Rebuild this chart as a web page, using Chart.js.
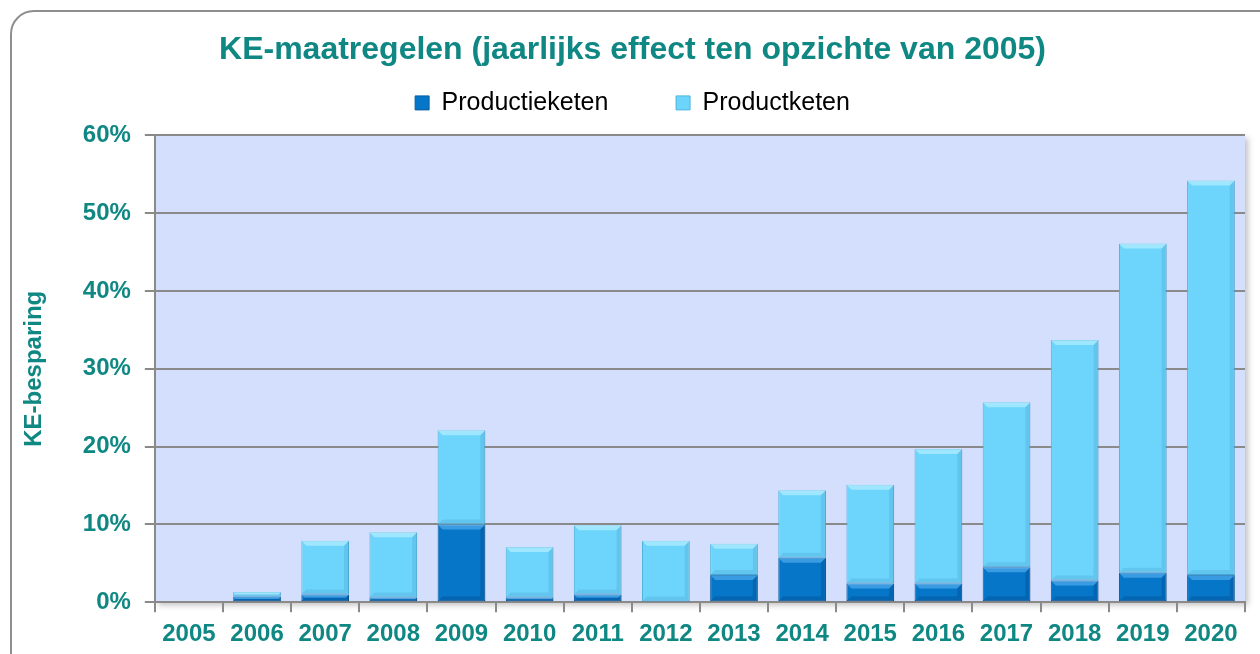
<!DOCTYPE html>
<html>
<head>
<meta charset="utf-8">
<script src="https://cdn.jsdelivr.net/npm/chart.js@4/dist/chart.umd.min.js"></script>
<style>
    body { margin: 0; background: #ffffff; overflow: hidden; }
    #frame {
        position: absolute; left: 10px; top: 10px; width: 1300px; height: 700px;
        border: 2px solid #8e8e8e; border-radius: 24px; box-sizing: border-box;
    }
    #wrap { position: absolute; left: 0; top: 0; width: 1260px; height: 654px; }
</style>
</head>
<body>
<div id="frame"></div>
<div id="wrap"><canvas id="keChart" width="1260" height="654"></canvas></div>
<script>
const years = ["2005", "2006", "2007", "2008", "2009", "2010", "2011", "2012",
               "2013", "2014", "2015", "2016", "2017", "2018", "2019", "2020"];
// share in % (stacked)
const productieketen = [0, 0.7, 1.0, 0.6, 10.0, 0.6, 1.0, 0.1, 3.5, 5.7, 2.4, 2.4, 4.5, 2.8, 3.8, 3.5];
const productketen = [0, 0.6, 6.9, 8.4, 12.1, 6.5, 8.9, 7.8, 4.0, 8.7, 12.7, 17.3, 21.2, 30.9, 42.3, 50.7];
const yTicks = [0, 10, 20, 30, 40, 50, 60];

const teal = "#0f8783";
const font = "Liberation Sans, Arial, sans-serif";

const plotBackground = {
    id: "plotBackground",
    beforeDraw(chart) {
        const a = chart.chartArea;
        const ctx = chart.ctx;
        ctx.save();
        ctx.shadowColor = "rgba(0,0,0,0.25)";
        ctx.shadowBlur = 6;
        ctx.shadowOffsetX = 3;
        ctx.shadowOffsetY = 3;
        ctx.fillStyle = "#d4defd";
        ctx.fillRect(a.left, a.top, a.right - a.left, a.bottom - a.top);
        ctx.restore();
    }
};

// empty box between legend and plot, to get some air under the legend
const legendGap = {
    id: "legendGap",
    beforeInit(chart) {
        Chart.layouts.addBox(chart, {
            position: "top",
            weight: 1,
            fullSize: true,
            options: {},
            isHorizontal: () => true,
            update(maxWidth) {
                this.width = maxWidth;
                this.height = 10;
            },
            draw() {}
        });
    }
};

// simple bevel on each bar segment
const bevel = {
    id: "bevel",
    afterDatasetsDraw(chart) {
        const ctx = chart.ctx;
        const shades = [
            { hi: "rgba(120,200,255,0.45)", lo: "rgba(0,30,80,0.18)" },
            { hi: "rgba(200,245,255,0.55)", lo: "rgba(0,60,110,0.10)" }
        ];
        chart.data.datasets.forEach((ds, i) => {
            const meta = chart.getDatasetMeta(i);
            meta.data.forEach(bar => {
                const p = bar.getProps(["x", "y", "base", "width"], true);
                const l = p.x - p.width / 2, r = p.x + p.width / 2;
                const t = Math.min(p.y, p.base), b = Math.max(p.y, p.base);
                const h = b - t;
                if (h < 1) return;
                const s = Math.min(5, h / 2);
                ctx.save();
                ctx.fillStyle = shades[i].hi;
                ctx.beginPath();
                ctx.moveTo(l, t); ctx.lineTo(r, t); ctx.lineTo(r - s, t + s); ctx.lineTo(l + s, t + s);
                ctx.closePath(); ctx.fill();
                ctx.fillStyle = shades[i].lo;
                ctx.beginPath();
                ctx.moveTo(r, t); ctx.lineTo(r, b); ctx.lineTo(r - s, b - s); ctx.lineTo(r - s, t + s);
                ctx.closePath(); ctx.fill();
                ctx.beginPath();
                ctx.moveTo(l, b); ctx.lineTo(r, b); ctx.lineTo(r - s, b - s); ctx.lineTo(l + s, b - s);
                ctx.closePath(); ctx.fill();
                ctx.restore();
            });
        });
    }
};

const ctx = document.getElementById("keChart").getContext("2d");
new Chart(ctx, {
    type: "bar",
    data: {
        labels: years,
        datasets: [{
            label: "Productieketen\u00a0\u00a0\u00a0\u00a0\u00a0\u00a0",
            data: productieketen,
            backgroundColor: "#0677c8",
            borderColor: "#0a5d9e",
            borderWidth: 1,
            borderSkipped: false,
            barPercentage: 0.7,
            categoryPercentage: 1
        }, {
            label: "Productketen",
            data: productketen,
            backgroundColor: "#6dd5fc",
            borderColor: "#4fb4de",
            borderWidth: 1,
            borderSkipped: false,
            barPercentage: 0.7,
            categoryPercentage: 1
        }]
    },
    options: {
        responsive: false,
        animation: false,
        layout: { padding: { top: 31, right: 15, left: 20, bottom: -3 } },
        plugins: {
            title: {
                display: true,
                text: "KE-maatregelen (jaarlijks effect ten opzichte van 2005)",
                color: teal,
                font: { family: font, size: 32, weight: "bold" },
                padding: { top: 0, bottom: -5 }
            },
            legend: {
                labels: {
                    color: "#000000",
                    boxWidth: 14,
                    boxHeight: 14,
                    padding: 26,
                    font: { family: font, size: 25 }
                }
            },
            tooltip: { enabled: false }
        },
        scales: {
            x: {
                stacked: true,
                grid: {
                    drawOnChartArea: false,
                    drawTicks: true,
                    tickLength: 10,
                    color: "#8a8a8a",
                    lineWidth: 2
                },
                border: { color: "#8a8a8a", width: 2 },
                ticks: {
                    color: teal,
                    padding: 8,
                    font: { family: font, size: 24, weight: "bold" }
                }
            },
            y: {
                stacked: true,
                min: 0,
                max: 60,
                afterBuildTicks(axis) {
                    axis.ticks = yTicks.map(v => ({ value: v }));
                },
                grid: {
                    color: "#8a8a8a",
                    lineWidth: 2,
                    tickLength: 10
                },
                border: { color: "#8a8a8a", width: 2 },
                ticks: {
                    color: teal,
                    padding: 14,
                    font: { family: font, size: 24, weight: "bold" },
                    callback: v => v + "%"
                },
                title: {
                    display: true,
                    text: "KE-besparing",
                    color: teal,
                    padding: { top: 0, bottom: 20 },
                    font: { family: font, size: 24, weight: "bold" }
                }
            }
        }
    },
    plugins: [plotBackground, legendGap, bevel]
});
</script>
</body>
</html>
